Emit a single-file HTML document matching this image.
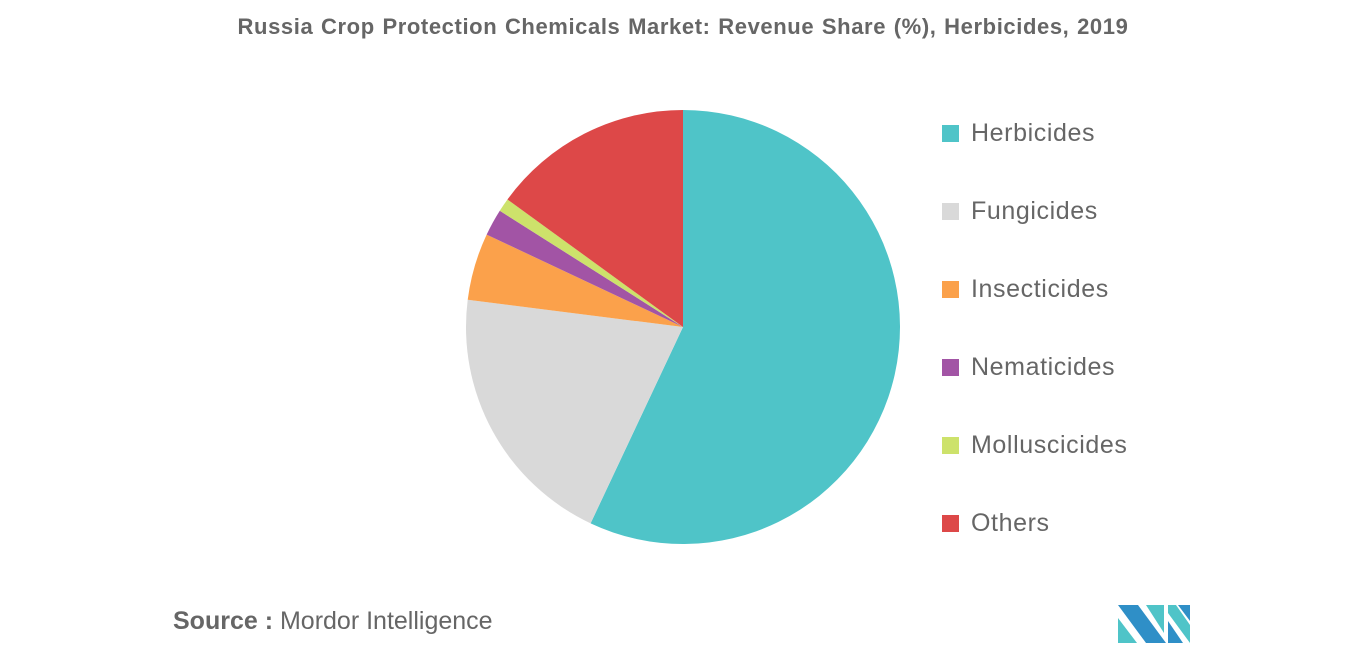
<!DOCTYPE html>
<html><head><meta charset="utf-8"><style>
body{margin:0;width:1366px;height:655px;background:#fff;font-family:"Liberation Sans",sans-serif;overflow:hidden;position:relative}
#title{position:absolute;left:0;width:1366px;top:14px;text-align:center;font-size:22px;letter-spacing:0.6px;word-spacing:1px;font-weight:bold;color:#666}
.leg{position:absolute;left:942px;font-size:25px;letter-spacing:0.6px;color:#666;height:30px;line-height:30px}
.leg span{display:inline-block;width:17px;height:17px;margin-right:12px;vertical-align:-1px}
#src{position:absolute;left:173px;top:607px;font-size:25px;color:#666}
</style></head><body>
<div id="title">Russia Crop Protection Chemicals Market: Revenue Share (%), Herbicides, 2019</div>
<svg id="pie" width="1366" height="655" style="position:absolute;left:0;top:0"></svg>
<div id="legend"></div>
<div id="src"><b>Source :</b> Mordor Intelligence</div>
<svg width="80" height="45" style="position:absolute;left:1116px;top:603px">
<polygon points="2,2 22,2 50,40 30,40" fill="#2f8fc7"/>
<polygon points="2,15 21,40 2,40" fill="#4fc4c8"/>
<polygon points="30,2 48,2 48,30" fill="#4fc4c8"/>
<polygon points="52,2 60,2 74,22 74,40 52,10" fill="#4fc4c8"/>
<polygon points="52,18 67,40 52,40" fill="#2f8fc7"/>
<polygon points="62,2 74,2 74,18" fill="#2f8fc7"/>
</svg>
<script>
const categories=["Herbicides","Fungicides","Insecticides","Nematicides","Molluscicides","Others"];
const values=[57,20,5,2,1,15];
const colors=["#4fc4c8","#d9d9d9","#fba14b","#a254a5","#cde26b","#dd4848"];
const svg=document.getElementById('pie');
const cx=683,cy=327,r=217;
const total=values.reduce((a,b)=>a+b,0);
let a0=0;
values.forEach((v,i)=>{
  const a1=a0+v/total*2*Math.PI;
  const x0=cx+r*Math.sin(a0),y0=cy-r*Math.cos(a0),x1=cx+r*Math.sin(a1),y1=cy-r*Math.cos(a1);
  const p=document.createElementNS('http://www.w3.org/2000/svg','path');
  p.setAttribute('d',`M${cx},${cy}L${x0},${y0}A${r},${r} 0 ${a1-a0>Math.PI?1:0} 1 ${x1},${y1}Z`);
  p.setAttribute('fill',colors[i]);
  
  
  svg.appendChild(p);
  a0=a1;
});
const leg=document.getElementById('legend');
categories.forEach((c,i)=>{
  const d=document.createElement('div');
  d.className='leg';d.style.top=(118+i*78)+'px';
  
  
  d.innerHTML=`<span style="background:${colors[i]}"></span>${c}`;
  leg.appendChild(d);
});
</script>
</body></html>
